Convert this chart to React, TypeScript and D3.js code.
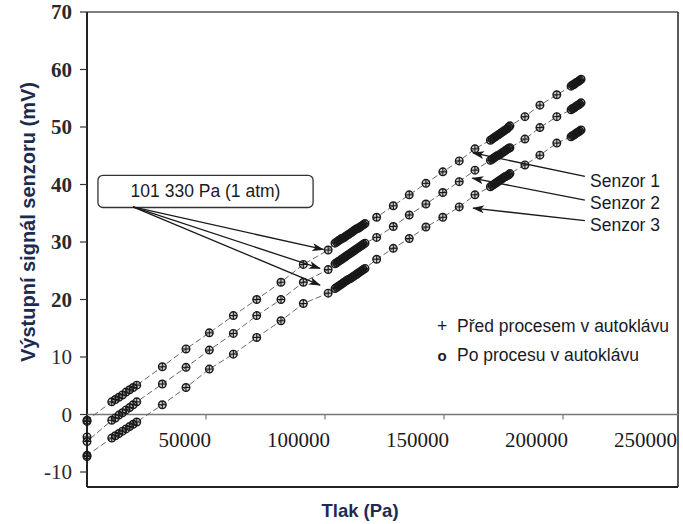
import React from "react";
import * as d3 from "d3";

const pressures = [0, 0, 10400, 11900, 13400, 14900, 16400, 17900, 19400, 20900, 31650, 41600, 51400, 61500, 71300, 81500, 90900, 101330, 104200, 104900, 105600, 106300, 107000, 107700, 108400, 109100, 109800, 110500, 111200, 111900, 112600, 113300, 114000, 114700, 115400, 116100, 116800, 121700, 128700, 135400, 142400, 149500, 156400, 163000, 169500, 170200, 170900, 171600, 172300, 173000, 173700, 174400, 175100, 175800, 176500, 177200, 177700, 184000, 190300, 197400, 203400, 204000, 204600, 205200, 205800, 206400, 207000, 207600];

const sensor1 = [-1.2, -1.0, 2.2, 2.6, 3.0, 3.4, 3.9, 4.3, 4.7, 5.1, 8.3, 11.4, 14.2, 17.2, 20.0, 23.0, 26.1, 28.6, 29.8, 30.0, 30.2, 30.4, 30.6, 30.7, 30.9, 31.1, 31.3, 31.5, 31.7, 31.9, 32.1, 32.3, 32.4, 32.6, 32.8, 33.0, 33.2, 34.3, 36.3, 38.2, 40.2, 42.2, 44.1, 46.2, 47.7, 47.9, 48.1, 48.3, 48.5, 48.7, 48.9, 49.1, 49.3, 49.5, 49.7, 50.0, 50.2, 51.8, 53.8, 55.6, 57.1, 57.3, 57.4, 57.6, 57.8, 57.9, 58.1, 58.3];
const sensor2 = [-3.9, -4.7, -1.0, -0.6, -0.1, 0.3, 0.8, 1.2, 1.7, 2.2, 5.3, 8.2, 11.2, 14.1, 17.2, 20.0, 23.0, 25.2, 26.2, 26.4, 26.6, 26.8, 27.0, 27.2, 27.4, 27.6, 27.8, 28.0, 28.2, 28.4, 28.6, 28.8, 29.0, 29.2, 29.4, 29.6, 29.8, 30.8, 32.7, 34.7, 36.6, 38.6, 40.5, 42.5, 44.2, 44.4, 44.6, 44.8, 45.0, 45.1, 45.3, 45.5, 45.7, 45.9, 46.1, 46.3, 46.4, 47.9, 49.9, 51.8, 53.0, 53.2, 53.3, 53.5, 53.7, 53.8, 54.0, 54.2];
const sensor3 = [-7.3, -7.1, -4.1, -3.7, -3.3, -2.9, -2.5, -2.1, -1.7, -1.3, 1.7, 4.7, 7.9, 10.5, 13.4, 16.3, 19.3, 21.1, 21.9, 22.1, 22.3, 22.5, 22.7, 22.9, 23.1, 23.3, 23.5, 23.6, 23.8, 24.0, 24.2, 24.4, 24.6, 24.8, 25.0, 25.2, 25.4, 27.0, 28.9, 30.6, 32.6, 34.3, 36.1, 38.2, 39.6, 39.8, 40.0, 40.2, 40.4, 40.6, 40.8, 41.0, 41.2, 41.4, 41.5, 41.7, 41.9, 43.4, 45.1, 47.2, 48.3, 48.5, 48.6, 48.8, 49.0, 49.1, 49.3, 49.5];

const sensorSeries = [sensor1, sensor2, sensor3];
const sensorNames = ["Senzor 1", "Senzor 2", "Senzor 3"];

const xTicks = [50000, 100000, 150000, 200000, 250000];
const yTicks = [-10, 0, 10, 20, 30, 40, 50, 60, 70];

const legendLabels = ["Před procesem v autoklávu", "Po procesu v autoklávu"];
const annotationText = "101 330 Pa (1 atm)";
// annotation arrows, in data units [pressure, mV]
const atmArrowStart = [19300, 36.1];
const atmArrowTips = [[99300, 28.7], [97900, 25.4], [97900, 22.5]];
const atmBox = { x0: 4600, x1: 95000, y0: 36.0, y1: 41.6 };
const sensorArrowStarts = [[209200, 41.4], [209200, 37.3], [209200, 33.7]];
const sensorArrowTips = [[162200, 45.5], [161900, 41.1], [162200, 35.9]];

const W = 683;
const H = 524;

export default function App() {
  const x = d3.scaleLinear().domain([0, 250000]).range([87, 682]);
  const y = d3.scaleLinear().domain([-10, 70]).range([472, 12]);
  const left = 87, right = 678, top = 12, bottom = 487;

  const line = d3
    .line<number>()
    .x((_, i) => x(pressures[i]))
    .y((v) => y(v));

  const serif = "'Liberation Serif', 'Times New Roman', serif";
  const sans = "'Liberation Sans', Arial, sans-serif";
  const textCol = "#1a1a26";
  const r = 3.8;

  return (
    <svg width={W} height={H} style={{ position: "absolute", left: 0, top: 0, background: "#fff" }}>
      <defs>
        <marker id="arr" viewBox="0 0 12 8" refX="11" refY="4" markerWidth="12" markerHeight="8" markerUnits="userSpaceOnUse" orient="auto">
          <path d="M0,0 L12,4 L0,8 L3,4 z" fill="#1a1a1a" />
        </marker>
      </defs>

      {/* frame */}
      <line x1={left} x2={right} y1={top} y2={top} stroke="#555" strokeWidth={1.4} />
      <line x1={right} x2={right} y1={top} y2={bottom} stroke="#222" strokeWidth={1.5} />
      <line x1={left} x2={right} y1={bottom} y2={bottom} stroke="#222" strokeWidth={2} />
      <line x1={left} x2={left} y1={top} y2={bottom} stroke="#222" strokeWidth={2} />

      {/* y ticks */}
      {yTicks.map((t) => (
        <g key={t}>
          <line x1={left - 7} x2={left} y1={y(t)} y2={y(t)} stroke="#333" strokeWidth={1.2} />
          <text
            x={72}
            y={y(t)}
            dy="0.35em"
            textAnchor="end"
            fontFamily={serif}
            fontSize={21}
            fontWeight={t >= 20 ? "bold" : "normal"}
            fill="#2a2a2a"
          >
            {t}
          </text>
        </g>
      ))}

      {/* x axis at y=0 */}
      <line x1={left} x2={right} y1={y(0)} y2={y(0)} stroke="#777" strokeWidth={1.5} />
      {xTicks.map((t) => (
        <g key={t}>
          {x(t) < right && <line x1={x(t)} x2={x(t)} y1={y(0)} y2={y(0) + 5} stroke="#777" strokeWidth={1.2} />}
          <text x={Math.min(x(t) + 5, 677)} y={447} textAnchor="end" fontFamily={serif} fontSize={21} fill="#1a1a1a">
            {t}
          </text>
        </g>
      ))}

      {/* axis titles */}
      <text
        transform={`translate(35,222) rotate(-90)`}
        textAnchor="middle"
        fontFamily={sans}
        fontWeight="bold"
        fontSize={20}
        fill="#1c2b50"
      >
        Výstupní signál senzoru (mV)
      </text>
      <text x={360} y={517} textAnchor="middle" fontFamily={sans} fontWeight="bold" fontSize={18.5} fill="#1c2b50">
        Tlak (Pa)
      </text>

      {/* series */}
      {sensorSeries.map((s, si) => (
        <g key={si}>
          <path d={line(s) || ""} fill="none" stroke="#555" strokeWidth={0.9} strokeDasharray="6,3" />
          {s.map((v, i) => {
            const cx = x(pressures[i]);
            const cy = y(v);
            return (
              <g key={i}>
                <circle cx={cx} cy={cy} r={r} fill="#000" fillOpacity={0.18} stroke="#1a1a1a" strokeWidth={1.4} />
                <line x1={cx - r} x2={cx + r} y1={cy} y2={cy} stroke="#1a1a1a" strokeWidth={1.1} />
                <line x1={cx} x2={cx} y1={cy - r} y2={cy + r} stroke="#1a1a1a" strokeWidth={1.1} />
              </g>
            );
          })}
        </g>
      ))}

      {/* annotation box */}
      <rect
        x={x(atmBox.x0)}
        y={y(atmBox.y1)}
        width={x(atmBox.x1) - x(atmBox.x0)}
        height={y(atmBox.y0) - y(atmBox.y1)}
        rx={5}
        fill="#fff"
        stroke="#333"
        strokeWidth={1.3}
      />
      <text
        x={(x(atmBox.x0) + x(atmBox.x1)) / 2}
        y={y(atmBox.y0) - 11}
        textAnchor="middle"
        fontFamily={sans}
        fontSize={17.5}
        fill={textCol}
      >
        {annotationText}
      </text>
      {atmArrowTips.map((tp, i) => (
        <line
          key={i}
          x1={x(atmArrowStart[0])}
          y1={y(atmArrowStart[1])}
          x2={x(tp[0])}
          y2={y(tp[1])}
          stroke="#1a1a1a"
          strokeWidth={1.3}
          markerEnd="url(#arr)"
        />
      ))}

      {/* sensor labels */}
      {sensorNames.map((n, i) => (
        <g key={n}>
          <line
            x1={x(sensorArrowStarts[i][0])}
            y1={y(sensorArrowStarts[i][1])}
            x2={x(sensorArrowTips[i][0])}
            y2={y(sensorArrowTips[i][1])}
            stroke="#1a1a1a"
            strokeWidth={1.3}
            markerEnd="url(#arr)"
          />
          <text x={590} y={186.5 + i * 22} fontFamily={sans} fontSize={17.5} fill={textCol}>
            {n}
          </text>
        </g>
      ))}

      {/* legend */}
      <text x={442} y={332} textAnchor="middle" fontFamily={sans} fontSize={17.5} fill={textCol}>+</text>
      <text x={457} y={332} fontFamily={sans} fontSize={17.5} fill={textCol}>{legendLabels[0]}</text>
      <text x={442} y={361} textAnchor="middle" fontFamily={sans} fontWeight="bold" fontSize={15} fill={textCol}>o</text>
      <text x={457} y={361} fontFamily={sans} fontSize={17.5} fill={textCol}>{legendLabels[1]}</text>
    </svg>
  );
}
